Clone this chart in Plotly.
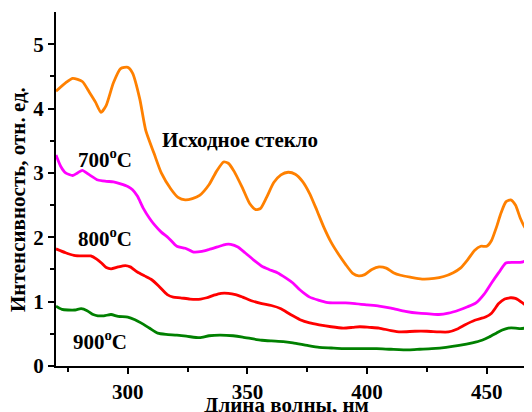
import plotly.graph_objects as go

orig_x = [270, 274, 277, 281, 284, 286.5, 288.8, 291, 294, 297, 300, 302, 305, 307.5, 311, 314, 318, 321, 324, 327, 330, 334, 337, 340, 342, 344.5, 348, 351, 353.5, 355.5, 358, 361, 364, 367, 370, 373, 376, 379, 382, 385, 388, 391, 394, 396.5, 399, 402, 405, 408, 411, 414, 418, 423, 428, 432, 436, 439, 442, 445, 447.5, 450, 452, 454, 456, 458, 460, 462, 464, 466, 467, 468.3]
orig_y = [4.27, 4.40, 4.47, 4.42, 4.25, 4.10, 3.94, 4.05, 4.40, 4.62, 4.64, 4.55, 4.15, 3.66, 3.30, 3.00, 2.75, 2.62, 2.58, 2.60, 2.65, 2.82, 3.02, 3.17, 3.15, 3.02, 2.76, 2.52, 2.43, 2.45, 2.62, 2.85, 2.97, 3.01, 2.98, 2.87, 2.68, 2.42, 2.15, 1.92, 1.74, 1.58, 1.44, 1.40, 1.42, 1.50, 1.54, 1.52, 1.45, 1.41, 1.38, 1.35, 1.36, 1.39, 1.45, 1.52, 1.65, 1.80, 1.86, 1.86, 1.95, 2.15, 2.38, 2.55, 2.58, 2.50, 2.30, 2.15, 2.12, 2.22]

t700_x = [270, 272, 274, 277, 279, 281, 284, 287.5, 291, 294, 297, 300, 302, 304, 306.5, 309, 311, 314, 317, 320.5, 324, 327.5, 331, 334, 337.5, 341, 343, 346, 349, 352.5, 356, 359, 362.5, 366, 369, 372, 376, 380, 383, 387, 391, 395, 400, 405, 410, 416, 421.5, 426, 430, 434, 438.5, 442, 445.5, 449, 452, 455, 458, 461, 464, 466, 467, 468.3]
t700_y = [3.28, 3.10, 3.00, 2.96, 3.00, 3.04, 2.97, 2.89, 2.87, 2.86, 2.83, 2.79, 2.74, 2.64, 2.45, 2.30, 2.20, 2.08, 1.99, 1.86, 1.83, 1.77, 1.78, 1.81, 1.85, 1.89, 1.89, 1.85, 1.76, 1.65, 1.55, 1.50, 1.45, 1.37, 1.29, 1.18, 1.07, 1.02, 0.99, 0.98, 0.98, 0.97, 0.95, 0.93, 0.90, 0.85, 0.82, 0.81, 0.80, 0.82, 0.87, 0.92, 0.98, 1.12, 1.29, 1.45, 1.60, 1.61, 1.61, 1.63, 1.69, 1.72]

t800_x = [270, 274, 277.5, 281, 284.5, 287, 289, 291, 293, 296, 299, 301, 304, 307, 310, 313, 316.5, 319, 322, 326, 330.5, 333, 336, 339, 342, 345, 348, 352, 356, 360, 364, 368, 372, 376, 380, 385, 390, 394, 397, 401, 405, 410, 414, 420, 425, 430, 434, 438, 441, 445, 449.5, 452, 455, 457.5, 460, 462, 465, 467, 468.3]
t800_y = [1.82, 1.76, 1.72, 1.71, 1.71, 1.66, 1.60, 1.53, 1.51, 1.54, 1.56, 1.54, 1.46, 1.40, 1.34, 1.24, 1.11, 1.07, 1.06, 1.04, 1.04, 1.06, 1.10, 1.13, 1.13, 1.11, 1.07, 1.01, 0.97, 0.94, 0.89, 0.80, 0.72, 0.67, 0.64, 0.61, 0.59, 0.60, 0.61, 0.60, 0.59, 0.55, 0.53, 0.54, 0.54, 0.53, 0.53, 0.58, 0.64, 0.71, 0.76, 0.82, 0.97, 1.04, 1.06, 1.05, 0.98, 0.92, 0.88]

t900_x = [270, 272.5, 275, 278, 280.5, 283, 285.5, 287.5, 290, 293, 296, 300, 303, 305.5, 309, 312.5, 316, 320.5, 325, 330, 334, 338.5, 344, 348, 352.5, 356, 360, 365, 369, 375, 380, 385, 390, 397, 404, 410, 417.5, 422, 427, 433, 438.5, 444, 448, 451, 454, 456.5, 459, 462, 464, 466, 468.3]
t900_y = [0.93, 0.88, 0.87, 0.87, 0.89, 0.86, 0.80, 0.78, 0.78, 0.80, 0.77, 0.76, 0.72, 0.67, 0.59, 0.51, 0.49, 0.48, 0.46, 0.44, 0.47, 0.48, 0.47, 0.45, 0.42, 0.40, 0.39, 0.38, 0.36, 0.32, 0.29, 0.28, 0.27, 0.27, 0.27, 0.26, 0.25, 0.26, 0.27, 0.29, 0.32, 0.36, 0.40, 0.45, 0.51, 0.56, 0.59, 0.59, 0.58, 0.59, 0.63]

x_ticks = [300, 350, 400, 450]
y_ticks = [0, 1, 2, 3, 4, 5]

labels = ["Исходное стекло", "700<sup>o</sup>C", "800<sup>o</sup>C", "900<sup>o</sup>C"]
label_x = [347, 290.4, 290.4, 288.3]
label_y = [3.51, 3.23, 2.0, 0.40]

x_title = "Длина волны, нм"
y_title = "Интенсивность, отн. ед."

series = [
    (orig_x, orig_y, "#FF8000"),
    (t700_x, t700_y, "#FF00FF"),
    (t800_x, t800_y, "#FF0000"),
    (t900_x, t900_y, "#008000"),
]

FONT = "Liberation Serif"

fig = go.Figure()
for xs, ys, c in series:
    fig.add_trace(go.Scatter(x=xs, y=ys, mode="lines",
                             line=dict(color=c, width=2.8, shape="spline", smoothing=0.6),
                             showlegend=False))

for t, x, y in zip(labels, label_x, label_y):
    fig.add_annotation(x=x, y=y, text="<b>" + t + "</b>", showarrow=False,
                       font=dict(family=FONT, size=21, color="black"),
                       xanchor="center", yanchor="middle")

# page body has an 8px margin, so the figure is 8px smaller and margins shifted
fig.add_annotation(xref="paper", yref="paper", x=0.485, y=-0.11, text="<b>" + x_title + "</b>",
                   showarrow=False, font=dict(family=FONT, size=21, color="black"),
                   xanchor="center", yanchor="middle")
fig.add_annotation(xref="paper", yref="paper", x=-0.08, y=0.469, text="<b>" + y_title + "</b>",
                   showarrow=False, textangle=-90, font=dict(family=FONT, size=21, color="black"),
                   xanchor="center", yanchor="middle")

fig.update_layout(
    width=524, height=404,
    margin=dict(l=48, r=1, t=4, b=46, autoexpand=False),
    plot_bgcolor="white", paper_bgcolor="white",
    font=dict(family=FONT, color="black"),
)
fig.update_xaxes(
    range=[270, 468.5], tickvals=x_ticks, ticktext=["<b>%d</b>" % v for v in x_ticks],
    ticks="outside", ticklen=6, tickwidth=2, tickcolor="black",
    minor=dict(tickvals=[275, 325, 375, 425], ticks="outside", ticklen=4, tickwidth=2, tickcolor="black"),
    showline=True, linewidth=2, linecolor="black", showgrid=False, zeroline=False,
    tickfont=dict(family=FONT, size=21, color="black"), automargin=False,
)
fig.update_yaxes(
    range=[0, 5.5], tickvals=y_ticks, ticktext=["<b>%d</b>" % v for v in y_ticks],
    ticks="outside", ticklen=6, tickwidth=2, tickcolor="black",
    minor=dict(tickvals=[0.5, 1.5, 2.5, 3.5, 4.5], ticks="outside", ticklen=4, tickwidth=2, tickcolor="black"),
    showline=True, linewidth=2, linecolor="black", showgrid=False, zeroline=False,
    tickfont=dict(family=FONT, size=21, color="black"), automargin=False,
)

fig.write_html("out.html")
